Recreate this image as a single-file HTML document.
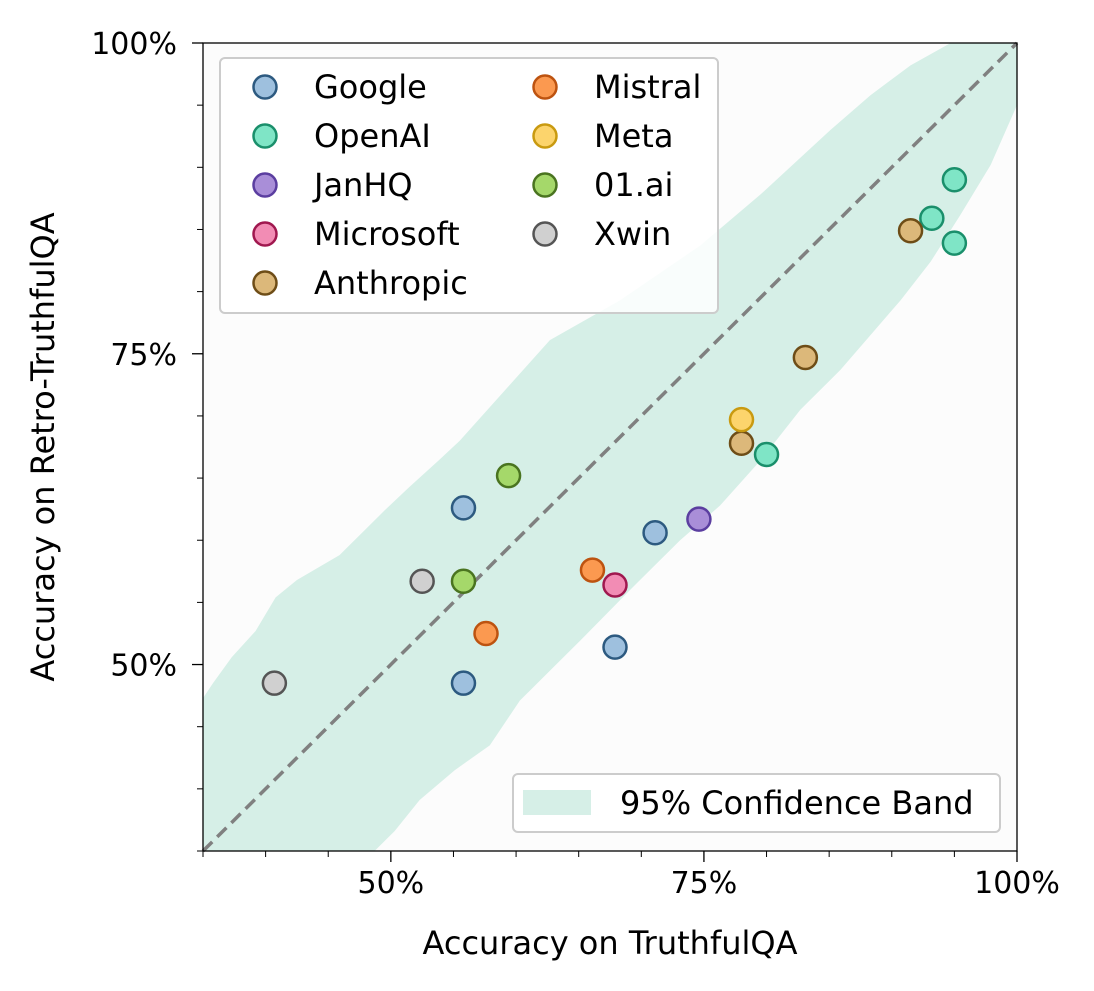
<!DOCTYPE html>
<html><head><meta charset="utf-8"><style>
body{margin:0;background:#fff;}
svg{display:block;font-family:"DejaVu Sans","Liberation Sans",sans-serif;}
</style></head><body>
<svg id="chart" width="1094" height="991" viewBox="0 0 1094 991" xmlns="http://www.w3.org/2000/svg">
<rect x="0" y="0" width="1094" height="991" fill="#fff"/>
<g id="plot"></g>
</svg>
<script>
const bandUpper=[[35,47.3],[35.8,48.5],[37.3,50.6],[39.2,52.7],[40.8,55.4],[42.5,56.8],[45.9,58.8],[49.5,62.4],[51.5,64.3],[53.8,66.4],[55.5,68.0],[62.7,76.1],[68.3,79.3],[74.7,83.7],[79.5,87.8],[85.1,93.0],[88.3,95.8],[91.5,98.2],[94.7,100]];
const bandLower=[[100,100],[100,95],[97.9,90.2],[95.5,86.2],[93.1,82.4],[90.7,79.3],[88.3,76.5],[85.9,73.7],[82.7,70.5],[79.5,66.4],[76.3,62.8],[73.1,60.0],[69.1,56.0],[65.1,51.9],[60.3,47.1],[57.9,43.5],[55.1,41.5],[52.3,39.1],[50.3,36.6],[48.7,35],[35,35]];
const orgs=["Google","OpenAI","JanHQ","Microsoft","Anthropic","Mistral","Meta","01.ai","Xwin"];
const fills=["#9ec0de","#7fe5c6","#a98ed8","#f28cb4","#dcb87a","#fb9950","#fcd46c","#a5d86a","#d0d0d0"];
const strokes=["#2d5a80","#1a8f6b","#5b3ea0","#a0184f","#6e4d17","#bd5310","#c99a10","#4a7420","#555555"];
const xVals=[[55.8,55.8,71.1,67.9],[95.0,93.2,95.0,80.0],[74.6],[67.9],[91.5,83.1,78.0],[66.1,57.6],[78.0],[59.4,55.8],[52.5,40.7]];
const yVals=[[62.6,48.5,60.6,51.4],[89.0,85.9,83.9,66.9],[61.7],[56.4],[84.9,74.7,67.8],[57.6,52.5],[69.7],[65.2,56.7],[56.7,48.5]];
const majorTicks=[50,75,100];
const tickLabels=["50%","75%","100%"];
const minorTicks=[35,40,45,55,60,65,70,80,85,90,95];

const L=203,R=1017,T=43,B=851,MIN=35,MAX=100;
const sx=v=>L+(v-MIN)/(MAX-MIN)*(R-L);
const sy=v=>B-(v-MIN)/(MAX-MIN)*(B-T);
const NS="http://www.w3.org/2000/svg";
const g=document.getElementById('plot');
function mk(t,a,p){const e=document.createElementNS(NS,t);for(const k in a)e.setAttribute(k,a[k]);(p||g).appendChild(e);return e;}

let bg=mk('rect',{x:L,y:T,width:R-L,height:B-T,fill:'#fcfcfc'});


const pts=bandUpper.concat(bandLower).map(p=>sx(p[0])+','+sy(p[1])).join(' ');
let band=mk('polygon',{points:pts,fill:'#d6efe7'});


let diag=mk('line',{x1:sx(MIN),y1:sy(MIN),x2:sx(MAX),y2:sy(MAX),stroke:'#808080','stroke-width':3.5,'stroke-dasharray':'13,7'});



orgs.forEach((o,i)=>{xVals[i].forEach((xv,j)=>{
  const c=mk('circle',{cx:sx(xv),cy:sy(yVals[i][j]),r:11.5,fill:fills[i],stroke:strokes[i],'stroke-width':2.5});
  
  
});});

let frame=mk('rect',{x:L,y:T,width:R-L,height:B-T,fill:'none',stroke:'#000','stroke-width':1.3});



majorTicks.forEach((v,i)=>{
  mk('line',{x1:sx(v),y1:B,x2:sx(v),y2:B+11,stroke:'#000','stroke-width':1.3});
  let tx=mk('text',{x:sx(v),y:B+42,'font-size':30,'text-anchor':'middle',fill:'#000'});tx.textContent=tickLabels[i];
  
  
  mk('line',{x1:L,y1:sy(v),x2:L-11,y2:sy(v),stroke:'#000','stroke-width':1.3});
  let ty=mk('text',{x:L-26,y:sy(v)+11,'font-size':30,'text-anchor':'end',fill:'#000'});ty.textContent=tickLabels[i];
  
  
});
minorTicks.forEach(v=>{
  mk('line',{x1:sx(v),y1:B,x2:sx(v),y2:B+6,stroke:'#000','stroke-width':1});
  mk('line',{x1:L,y1:sy(v),x2:L-6,y2:sy(v),stroke:'#000','stroke-width':1});
});
let xt=mk('text',{x:610,y:954,'font-size':32,'text-anchor':'middle',fill:'#000'});xt.textContent='Accuracy on TruthfulQA';


let yt=mk('text',{x:0,y:0,'font-size':32,'text-anchor':'middle',fill:'#000',transform:'translate(54,447) rotate(-90)'});yt.textContent='Accuracy on Retro-TruthfulQA';



let lg=mk('g',{});


mk('rect',{x:220,y:58,width:498,height:255,rx:5,fill:'#fff','fill-opacity':0.85,stroke:'#ccc','stroke-width':2},lg);
orgs.forEach((o,i)=>{
  const col=i<5?0:1,row=i<5?i:i-5;
  const mx=col?545:265,ty=87+row*49;
  const e=mk('g',{},lg);
  
  
  mk('circle',{cx:mx,cy:ty,r:11.5,fill:fills[i],stroke:strokes[i],'stroke-width':2.5},e);
  const t=mk('text',{x:mx+49,y:ty+11,'font-size':32,fill:'#000'},e);t.textContent=o;
});
let lg2=mk('g',{});


mk('rect',{x:513,y:774,width:487,height:58,rx:5,fill:'#fff','fill-opacity':0.85,stroke:'#ccc','stroke-width':2},lg2);
mk('rect',{x:523,y:790,width:68,height:25,fill:'#d6efe7'},lg2);
const bt=mk('text',{x:620,y:814,'font-size':32,fill:'#000'},lg2);bt.textContent='95% Confidence Band';
</script>
</body></html>
